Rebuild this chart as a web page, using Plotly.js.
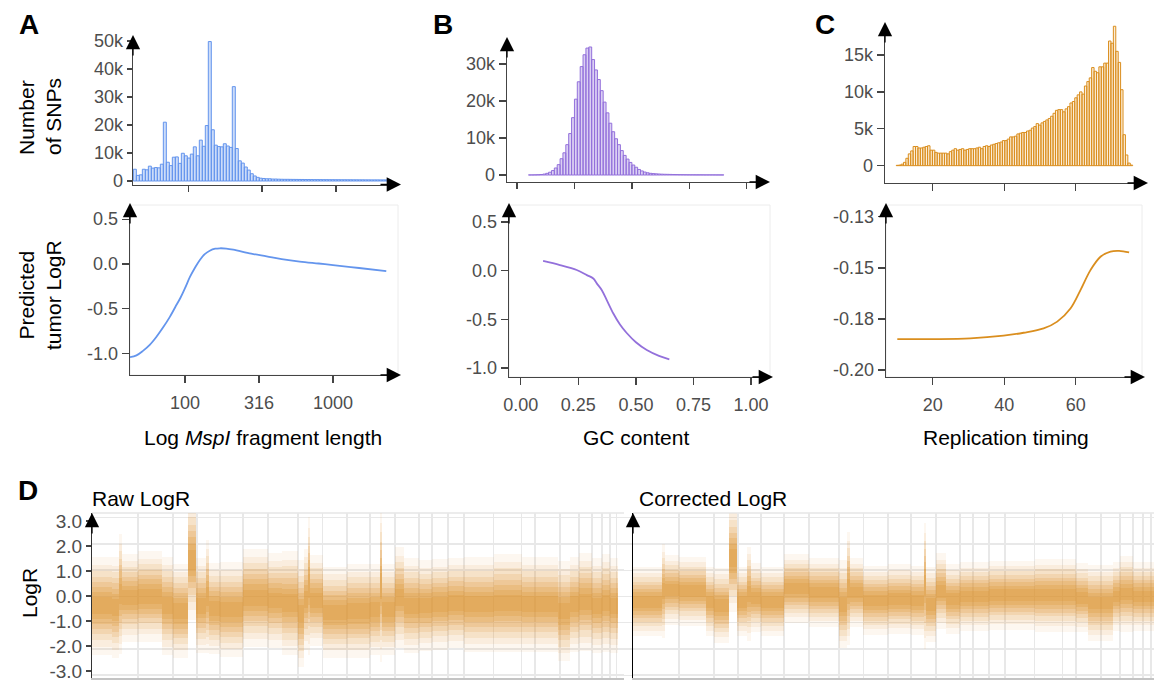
<!DOCTYPE html>
<html><head><meta charset="utf-8">
<script src="https://cdn.plot.ly/plotly-3.0.1.min.js"></script>
<style>html,body{margin:0;padding:0;background:#fff}#chart{width:1154px;height:681px}</style>
</head><body><div id="chart"></div>
<script>
// ================= DATA =================
// Panel A: SNP counts per log10(MspI fragment length) bin
const fragBinStartLog10 = 1.628;
const fragBinWidthLog10 = 0.0203;
const fragCounts = [4200,2000,2200,4200,4000,5300,4600,4800,4700,6000,
  21000,6700,5500,8500,8600,6300,9900,9000,8200,9600,
  12200,9000,14600,12400,19800,49800,18300,12800,12300,12200,
  13300,12500,12000,33700,11600,7200,6400,5000,3900,2600,
  1800,1300,1000,900,800,800,700,700,650,620,
  600,600,580,570,560,550,540,520,520,510,
  500,500,490,480,480,470,470,460,460,450,
  450,440,440,430,430,420,420,410,410,400,
  400,400,390,390,380,380];
// Panel A: predicted tumor LogR vs fragment length
const fragLen  = [42.5,47,52,58,64,71,79,86,93,100,108,117,126,136,147,160,172,190,212,280,356,450,596,800,1000,1500,2290];
const fragLogR = [-1.04,-1.02,-0.97,-0.9,-0.815,-0.71,-0.59,-0.48,-0.38,-0.27,-0.145,-0.04,0.045,0.11,0.148,0.17,0.175,0.172,0.16,0.115,0.085,0.055,0.027,0.005,-0.012,-0.045,-0.08];

// Panel B: SNP counts per GC-content bin
const gcBinStart = 0.05;
const gcBinWidth = 0.0125;
const gcCounts = [20,30,50,80,130,250,450,750,1200,1900,
  2800,4400,6000,8200,11200,15500,20500,25200,29300,32500,
  34300,34600,31200,28400,25800,22800,19700,16800,14000,11700,
  9800,8200,6600,5300,4300,3400,2700,2100,1500,1100,
  800,600,450,380,320,270,230,200,180,160,
  140,120,100,90,80,70,60,60,50,50,
  50,40,40,40,40,30,30,30];
// Panel B: predicted tumor LogR vs GC content
const gcX    = [0.097,0.17,0.243,0.287,0.315,0.33,0.352,0.375,0.402,0.43,0.46,0.5,0.547,0.6,0.645];
const gcLogR = [0.10,0.058,0.007,-0.045,-0.08,-0.13,-0.2,-0.31,-0.44,-0.55,-0.64,-0.735,-0.815,-0.875,-0.91];

// Panel C: SNP counts per replication-timing bin
const rtBinStart = 9.8;
const rtBinWidth = 0.675;
const rtCounts = [50,80,200,450,1000,1600,2000,2600,2600,2400,
  2400,2500,2600,2700,2100,2100,1800,1700,1700,1700,
  1700,1600,1900,2100,2300,2100,2200,2300,2100,2200,
  2300,2300,2300,2400,2500,2300,2600,2700,2600,2800,
  2900,3000,3100,3200,3400,3400,3600,3900,3900,4000,
  4300,4400,4500,4500,4700,4800,5100,5300,5700,5500,
  5800,6000,6200,6400,6700,7100,7500,7600,7600,7300,
  7700,8000,8500,8700,9200,9600,10000,9700,10800,11400,
  11900,13300,12800,12600,13400,13400,13900,13900,16900,16600,
  18900,15500,14000,10300,4200,1450,350,80];
// Panel C: predicted tumor LogR vs replication timing
const rtX    = [10.1,20.2,30.5,39.8,45.4,51.0,54.8,58.5,61.3,64.1,66.9,69.7,72.1,74.9];
const rtLogR = [-0.1864,-0.1864,-0.1861,-0.1849,-0.1836,-0.1817,-0.1787,-0.1729,-0.1648,-0.156,-0.1501,-0.1478,-0.1475,-0.1482];

// Panel D: genome position (chromosome boundaries, same units in both panels)
const chrBounds = [46,81,105,128,151,176,206,230.5,255,278,303,327,340,356,372,401.5,429.5,443,468,487,500,510,518,524.5];
const logRTicks = [-3, -2, -1, 0, 1, 2, 3];
const logRTickText = ['-3.0', '-2.0', '-1.0', '0.0', '1.0', '2.0', '3.0'];
// Raw LogR cloud: segment breaks, segment centre, core half-width
const rawBreaks = [0,20,27,30,46,70,81,96,104,114,117,128,151,176,190,206,212,216,218,231,255,278,288,290,303,312,327,340,356,372,401.5,430,443,466,478,487,500,510,518,526];
const rawCenter = [-0.35,-0.42,0.1,-0.05,0.0,-0.35,-0.55,1.4,-0.35,0.0,-0.45,-0.5,-0.05,-0.15,-0.25,-0.65,-0.1,0.4,-0.15,-0.6,-0.55,-0.5,0.4,-0.5,-0.05,-0.35,-0.35,-0.3,-0.25,-0.3,-0.25,-0.3,-0.3,-0.55,-0.3,-0.2,-0.35,-0.25,-0.35];
const rawHalf   = [0.78,0.8,0.95,0.7,0.72,0.78,0.75,0.95,0.75,0.9,0.72,0.75,0.78,0.75,0.82,0.85,0.8,1.1,0.72,0.72,0.75,0.72,1.2,0.72,0.8,0.75,0.72,0.72,0.72,0.75,0.78,0.75,0.75,0.8,0.75,0.78,0.75,0.78,0.75];
// Corrected LogR cloud
const corBreaks = [0,29,32,46,73,81,96,104,114,118,128,151,176,206,214,217,230,255,278,291,293,303,313,327,356,372,401.5,443,455,480,487,500,526];
const corCenter = [-0.2,0.2,0.25,0.2,-0.2,-0.35,1.45,-0.2,0.1,-0.05,-0.2,0.3,0.15,-0.3,0.3,0.15,-0.15,-0.1,-0.15,0.4,-0.3,0.2,-0.1,0.0,0.05,0.05,0.05,-0.05,-0.25,0.0,0.1,0.0];
const corHalf   = [0.55,0.75,0.55,0.55,0.55,0.6,0.85,0.55,0.75,0.55,0.55,0.55,0.55,0.7,0.9,0.55,0.55,0.55,0.55,1.0,0.6,0.6,0.55,0.55,0.55,0.55,0.58,0.55,0.6,0.55,0.6,0.55];

// ================= STYLE / LAYOUT =================
const W = 1154, H = 681;
const FONT = 'Liberation Sans, Arial, Helvetica, sans-serif';
const dx = (a, b) => [a / W, b / W];
const dy = (top, bottom) => [1 - bottom / H, 1 - top / H];
const BLUE = '#6495ED', PURPLE = '#9370DB', ORANGE = '#DA8E1E', DOT = '220,144,42';
const tickFont = {family: FONT, size: 18, color: '#4d4d4d'};

function binCenters(start, width, n) {
  const c = [];
  for (let i = 0; i < n; i++) c.push(start + width * (i + 0.5));
  return c;
}
function baseAxis(extra) {
  return Object.assign({
    showgrid: false, zeroline: false, showline: true, linecolor: '#444', linewidth: 1.3,
    ticks: 'outside', ticklen: 6, tickwidth: 1.3, tickcolor: '#444', tickfont: tickFont,
    ticklabeloverflow: 'allow', fixedrange: true
  }, extra);
}

const traces = [];
traces.push({type: 'bar', x: binCenters(fragBinStartLog10, fragBinWidthLog10, fragCounts.length), y: fragCounts,
  width: fragBinWidthLog10, xaxis: 'x', yaxis: 'y',
  marker: {color: 'rgba(100,149,237,0.33)', line: {color: BLUE, width: 1}}, hoverinfo: 'skip'});
traces.push({type: 'scatter', mode: 'lines', x: fragLen.map(v => Math.log10(v)), y: fragLogR,
  xaxis: 'x2', yaxis: 'y2', line: {color: BLUE, width: 1.8, shape: 'spline', smoothing: 1}});
traces.push({type: 'bar', x: binCenters(gcBinStart, gcBinWidth, gcCounts.length), y: gcCounts,
  width: gcBinWidth, xaxis: 'x3', yaxis: 'y3',
  marker: {color: 'rgba(147,112,219,0.33)', line: {color: PURPLE, width: 1}}, hoverinfo: 'skip'});
traces.push({type: 'scatter', mode: 'lines', x: gcX, y: gcLogR, xaxis: 'x4', yaxis: 'y4',
  line: {color: PURPLE, width: 1.8, shape: 'spline', smoothing: 1}});
traces.push({type: 'bar', x: binCenters(rtBinStart, rtBinWidth, rtCounts.length), y: rtCounts,
  width: rtBinWidth, xaxis: 'x5', yaxis: 'y5',
  marker: {color: 'rgba(240,190,110,0.28)', line: {color: ORANGE, width: 1}}, hoverinfo: 'skip'});
traces.push({type: 'scatter', mode: 'lines', x: rtX, y: rtLogR, xaxis: 'x6', yaxis: 'y6',
  line: {color: ORANGE, width: 1.8, shape: 'spline', smoothing: 1}});

// D clouds: many translucent bands stacked to give a soft density gradient
const layers = [{m: 2.4, a: 0.07}, {m: 2.0, a: 0.09}, {m: 1.7, a: 0.12}, {m: 1.4, a: 0.15},
                {m: 1.15, a: 0.18}, {m: 0.9, a: 0.2}, {m: 0.65, a: 0.22}, {m: 0.4, a: 0.22}];
function cloud(breaks, center, half, xa, ya) {
  layers.forEach(L => {
    const x = [], w = [], base = [], y = [];
    for (let i = 0; i < center.length; i++) {
      x.push((breaks[i] + breaks[i + 1]) / 2);
      w.push(breaks[i + 1] - breaks[i]);
      base.push(center[i] - half[i] * L.m);
      y.push(2 * half[i] * L.m);
    }
    traces.push({type: 'bar', x: x, y: y, base: base, width: w, xaxis: xa, yaxis: ya,
      marker: {color: 'rgba(' + DOT + ',' + L.a + ')', line: {width: 0}}, hoverinfo: 'skip'});
  });
}
cloud(rawBreaks, rawCenter, rawHalf, 'x7', 'y7');
cloud(corBreaks, corCenter, corHalf, 'x8', 'y8');

const layout = {
  width: W, height: H, margin: {l: 0, r: 0, t: 0, b: 0},
  paper_bgcolor: '#fff', plot_bgcolor: 'rgba(0,0,0,0)',
  showlegend: false, barmode: 'overlay', bargap: 0,
  font: {family: FONT},
  xaxis: baseAxis({domain: dx(133, 398), range: [1.6256, 3.4198], tickvals: [2, 2.5, 3], showticklabels: false, anchor: 'y'}),
  yaxis: baseAxis({domain: dy(38, 185), range: [-1430, 51070], tickvals: [0, 10000, 20000, 30000, 40000, 50000],
    ticktext: ['0', '10k', '20k', '30k', '40k', '50k'], ticklen: 5, anchor: 'x'}),
  xaxis2: baseAxis({domain: dx(130, 398), range: [1.6284, 3.439], tickvals: [2, 2.5, 3], ticktext: ['100', '316', '1000'],
    ticklen: 7, ticklabelstandoff: 4, anchor: 'y2'}),
  yaxis2: baseAxis({domain: dy(205, 375), range: [-1.239, 0.658], tickvals: [-1, -0.5, 0, 0.5],
    ticktext: ['-1.0', '-0.5', '0.0', '0.5'], ticklen: 7, anchor: 'x2'}),
  xaxis3: baseAxis({domain: dx(507, 767), range: [-0.0435, 1.088], tickvals: [0, 0.25, 0.5, 0.75, 1], showticklabels: false, anchor: 'y3'}),
  yaxis3: baseAxis({domain: dy(40, 182), range: [-1890, 36490], tickvals: [0, 10000, 20000, 30000],
    ticktext: ['0', '10k', '20k', '30k'], ticklen: 7, anchor: 'x3'}),
  xaxis4: baseAxis({domain: dx(509, 770), range: [-0.051, 1.082], tickvals: [0, 0.25, 0.5, 0.75, 1],
    ticktext: ['0.00', '0.25', '0.50', '0.75', '1.00'], ticklen: 7, ticklabelstandoff: 4, anchor: 'y4'}),
  yaxis4: baseAxis({domain: dy(205, 377), range: [-1.092, 0.675], tickvals: [-1, -0.5, 0, 0.5],
    ticktext: ['-1.0', '-0.5', '0.0', '0.5'], ticklen: 7, anchor: 'x4'}),
  xaxis5: baseAxis({domain: dx(885, 1145), range: [6.66, 79.4], tickvals: [20, 40, 60], showticklabels: false, ticklen: 7, anchor: 'y5'}),
  yaxis5: baseAxis({domain: dy(25, 183), range: [-2350, 19070], tickvals: [0, 5000, 10000, 15000],
    ticktext: ['0', '5k', '10k', '15k'], ticklen: 7, anchor: 'x5'}),
  xaxis6: baseAxis({domain: dx(886, 1142), range: [6.94, 78.5], tickvals: [20, 40, 60], ticklen: 7, ticklabelstandoff: 4, anchor: 'y6'}),
  yaxis6: baseAxis({domain: dy(205, 377), range: [-0.2031, -0.1273], tickvals: [-0.2, -0.1775, -0.155, -0.1325],
    ticktext: ['-0.20', '-0.18', '-0.15', '-0.13'], ticklen: 7, anchor: 'x6'}),
  xaxis7: baseAxis({domain: dx(92, 624), range: [0, 532], tickvals: chrBounds, showticklabels: false, ticks: '',
    showgrid: true, gridcolor: '#e8e8e8', gridwidth: 1.5, linecolor: '#c4c4c4', linewidth: 1.5, anchor: 'y7'}),
  yaxis7: baseAxis({domain: dy(513, 678), range: [-3.105, 3.18], tickvals: logRTicks, showticklabels: false,
    ticks: '', showgrid: true, gridcolor: '#e8e8e8', gridwidth: 1.5, linecolor: '#333', anchor: 'x7'}),
  // label axis for the raw panel (labels sit slightly inside the grid, as in the source figure)
  yaxis9: baseAxis({domain: dy(513, 678), range: [-3.28, 3.32], tickvals: logRTicks, ticktext: logRTickText,
    tickfont: {family: FONT, size: 19, color: '#4d4d4d'}, ticklen: 5, showline: false,
    overlaying: 'y7', anchor: 'x7', side: 'left'}),
  xaxis8: baseAxis({domain: dx(633, 1154), range: [0, 521], tickvals: chrBounds, showticklabels: false, ticks: '',
    showgrid: true, gridcolor: '#e8e8e8', gridwidth: 1.5, linecolor: '#c4c4c4', linewidth: 1.5, anchor: 'y8'}),
  yaxis8: baseAxis({domain: dy(513, 678), range: [-3.105, 3.18], tickvals: logRTicks, showticklabels: false,
    ticklen: 12, tickcolor: '#e8e8e8', showgrid: true, gridcolor: '#e8e8e8', gridwidth: 1.5, linecolor: '#000', anchor: 'x8'}),
  shapes: [],
  annotations: []
};
// invisible trace so the label axis is drawn
traces.push({type: 'scatter', mode: 'markers', x: [0], y: [0], xaxis: 'x7', yaxis: 'y9',
  marker: {size: 1, color: 'rgba(0,0,0,0)'}, hoverinfo: 'skip'});

[['x2', 'y2'], ['x4', 'y4'], ['x6', 'y6']].forEach(([xa, ya]) => {
  layout.shapes.push({type: 'rect', xref: xa + ' domain', yref: ya + ' domain', x0: 0, x1: 1, y0: 0, y1: 1,
    line: {color: '#ececec', width: 1}, layer: 'below'});
});
[['x7', 'y7'], ['x8', 'y8']].forEach(([xa, ya]) => {
  layout.shapes.push({type: 'line', xref: xa + ' domain', yref: ya + ' domain', x0: 0, x1: 1, y0: 1, y1: 1,
    line: {color: '#e6e6e6', width: 1.5}, layer: 'below'});
});

function arrow(px, py, ax, ay) {
  layout.annotations.push({xref: 'paper', yref: 'paper', x: px / W, y: 1 - py / H, ax: ax, ay: ay,
    axref: 'pixel', ayref: 'pixel', text: '', showarrow: true, arrowhead: 2, arrowsize: 2.2,
    arrowwidth: 1.3, arrowcolor: '#000', standoff: 0});
}
arrow(133, 35, 0, 22); arrow(401, 184.5, -22, 0);
arrow(130, 203, 0, 22); arrow(401, 375, -22, 0);
arrow(507, 37, 0, 22); arrow(770, 182, -22, 0);
arrow(509, 203, 0, 22); arrow(773, 377, -22, 0);
arrow(885, 22, 0, 22); arrow(1148, 183, -22, 0);
arrow(886, 203, 0, 22); arrow(1145, 377, -22, 0);
arrow(92, 513, 0, 22); arrow(633, 513, 0, 22);

function label(text, px, py, opts) {
  layout.annotations.push(Object.assign({xref: 'paper', yref: 'paper', x: px / W, y: 1 - py / H,
    text: text, showarrow: false, xanchor: 'center', yanchor: 'middle',
    font: {family: FONT, size: 21, color: '#000'}}, opts || {}));
}
const big = {family: FONT, size: 28, color: '#000'};
label('<b>A</b>', 29, 25, {font: big});
label('<b>B</b>', 443, 25, {font: big});
label('<b>C</b>', 825, 25, {font: big});
label('<b>D</b>', 28, 490, {font: big});
label('Number<br>of SNPs', 40, 117, {textangle: -90, align: 'left'});
label('Predicted<br>tumor LogR', 40, 295, {textangle: -90, align: 'center'});
label('Log <i>MspI</i> fragment length', 263, 437);
label('GC content', 636, 437);
label('Replication timing', 1006, 437);
label('LogR', 29, 593, {textangle: -90});
label('Raw LogR', 90, 498, {xanchor: 'left'});
label('Corrected LogR', 637, 498, {xanchor: 'left'});

Plotly.newPlot('chart', traces, layout, {displayModeBar: false, staticPlot: true});
</script>
</body></html>
